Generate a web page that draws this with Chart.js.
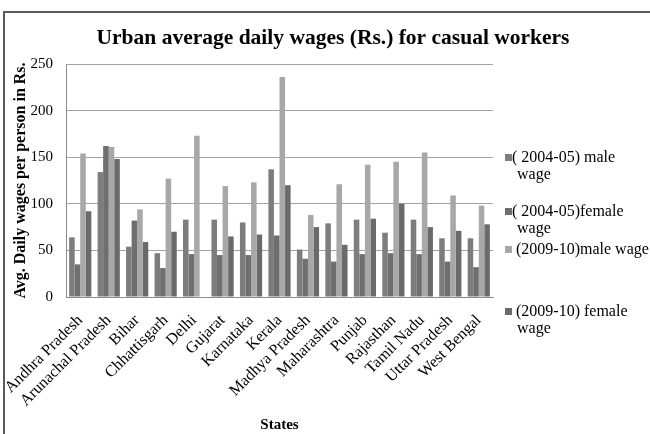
<!DOCTYPE html>
<html>
<head>
<meta charset="utf-8">
<script src="https://cdn.jsdelivr.net/npm/chart.js@4/dist/chart.umd.min.js"></script>
<style>
  html, body { margin: 0; padding: 0; background: #ffffff; }
  #wrap { position: relative; width: 650px; height: 434px; }
</style>
</head>
<body>
<div id="wrap"><canvas id="c" width="650" height="434"></canvas></div>
<script>
// Urban casual workers: average daily wage (Rs.) by state
const states = [
  'Andhra Pradesh', 'Arunachal Pradesh', 'Bihar', 'Chhattisgarh', 'Delhi',
  'Gujarat', 'Karnataka', 'Kerala', 'Madhya Pradesh', 'Maharashtra',
  'Punjab', 'Rajasthan', 'Tamil Nadu', 'Uttar Pradesh', 'West Bengal'
];
const male0405   = [64, 134, 54, 47, 83, 83, 80, 137, 51, 79, 83, 69, 83, 63, 63];
const female0405 = [35, 162, 82, 31, 46, 45, 45, 66, 41, 38, 46, 47, 46, 38, 32];
const male0910   = [154, 161, 94, 127, 173, 119, 123, 236, 88, 121, 142, 145, 155, 109, 98];
const female0910 = [92, 148, 59, 70, null, 65, 67, 120, 75, 56, 84, 100, 75, 71, 78];

const yTicks = [0, 50, 100, 150, 200, 250];

const titleText = 'Urban average daily wages (Rs.) for casual workers';
const yTitle = 'Avg. Daily wages per person in Rs.';
const xTitle = 'States';

// legend captions, one entry per line as laid out beside the plot
const legendLines = [
  ['( 2004-05) male', 'wage'],
  ['( 2004-05)female', 'wage'],
  [' (2009-10)male wage'],
  [' (2009-10) female', 'wage']
];

const colors = ['#7d7d7d', '#6f6f6f', '#a8a8a8', '#6a6a6a'];
const serif = '"Liberation Serif", "Times New Roman", serif';

// frame, title and wrapped legend drawn straight onto the canvas
const decor = {
  id: 'decor',
  afterDraw(chart) {
    const ctx = chart.ctx;
    ctx.save();
    // frame lines
    ctx.strokeStyle = '#5a5a5a';
    ctx.lineWidth = 2;
    ctx.beginPath();
    ctx.moveTo(4, 434);
    ctx.lineTo(4, 12);
    ctx.lineTo(650, 12);
    ctx.stroke();

    // title
    ctx.fillStyle = '#000';
    ctx.font = 'bold 21.5px ' + serif;
    ctx.textAlign = 'center';
    ctx.textBaseline = 'middle';
    ctx.fillText(titleText, 333, 38);

    // legend
    const firstY = [158, 212, 250, 312];
    ctx.font = '16px ' + serif;
    ctx.textAlign = 'left';
    chart.data.datasets.forEach((ds, i) => {
      const y = firstY[i];
      ctx.fillStyle = ds.backgroundColor;
      ctx.fillRect(505, y - 4, 7, 7);
      ctx.fillStyle = '#000';
      legendLines[i].forEach((line, j) => {
        const x = j === 0 ? 512 : 517;
        ctx.fillText(line, x, y + j * 17);
      });
    });
    ctx.restore();
  }
};

new Chart(document.getElementById('c'), {
  type: 'bar',
  data: {
    labels: states,
    datasets: [
      { label: legendLines[0].join(' '), data: male0405, backgroundColor: colors[0] },
      { label: legendLines[1].join(' '), data: female0405, backgroundColor: colors[1] },
      { label: legendLines[2].join(' '), data: male0910, backgroundColor: colors[2] },
      { label: legendLines[3].join(' '), data: female0910, backgroundColor: colors[3] }
    ]
  },
  options: {
    responsive: false,
    animation: false,
    devicePixelRatio: 1,
    layout: { padding: { top: 64, right: 157, bottom: 0, left: 0 } },
    datasets: {
      bar: { categoryPercentage: 0.78, barPercentage: 1.0, borderWidth: 0 }
    },
    plugins: {
      legend: { display: false },
      title: { display: false },
      tooltip: { enabled: false }
    },
    scales: {
      x: {
        grid: { display: false, drawTicks: false },
        border: { display: true, color: '#8c8c8c', width: 1 },
        ticks: {
          color: '#000',
          font: { family: serif, size: 16 },
          maxRotation: 45,
          minRotation: 45,
          autoSkip: false,
          padding: 14
        },
        title: {
          display: true,
          text: xTitle,
          color: '#000',
          font: { family: serif, size: 15, weight: 'bold' },
          padding: { top: 0, bottom: 0 }
        },
        afterFit(scale) {
          scale.height = 137;
          scale.paddingLeft = 0;
          scale.paddingRight = 0;
        }
      },
      y: {
        min: 0,
        max: 250,
        afterBuildTicks(scale) { scale.ticks = yTicks.map(v => ({ value: v })); },
        grid: { color: '#a3a3a3', lineWidth: 1, drawTicks: false },
        border: { display: true, color: '#8c8c8c', width: 1 },
        ticks: {
          color: '#000',
          font: { family: serif, size: 15 },
          padding: 13
        },
        title: {
          display: true,
          text: yTitle,
          color: '#000',
          font: { family: serif, size: 16, weight: 'bold' },
          padding: { top: 11, bottom: 0 }
        },
        afterFit(scale) {
          scale.width = 66;
          scale.paddingTop = 0;
          scale.paddingBottom = 0;
        }
      }
    }
  },
  plugins: [decor]
});
</script>
</body>
</html>
